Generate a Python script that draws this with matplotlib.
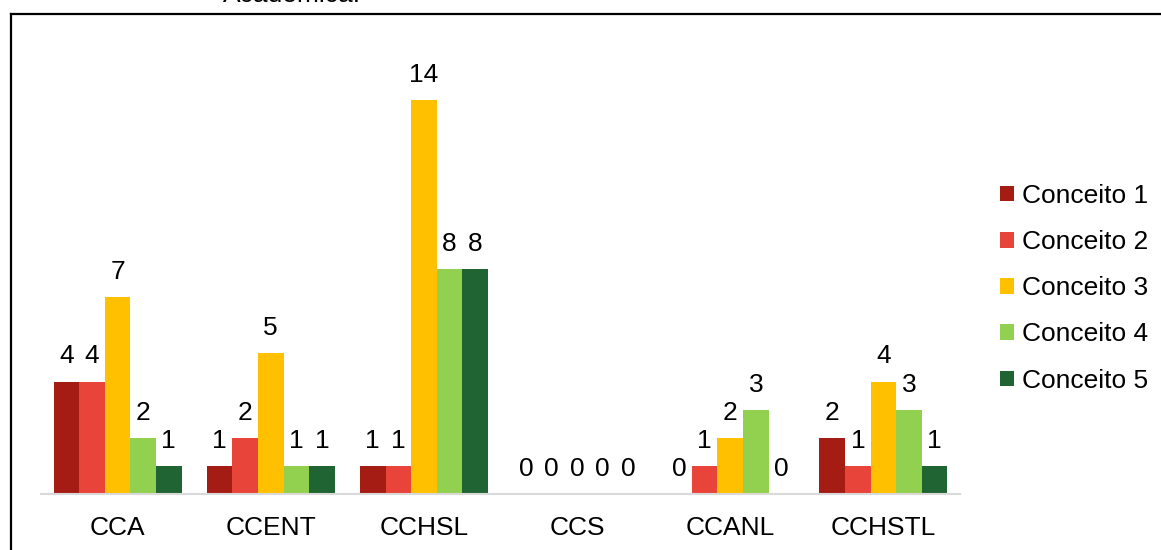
import numpy as np
import matplotlib.pyplot as plt
from matplotlib.lines import Line2D

plt.rcParams['font.family'] = ['Liberation Sans', 'DejaVu Sans']

# datos
cursos = ['CCA', 'CCENT', 'CCHSL', 'CCS', 'CCANL', 'CCHSTL']
conceito_1 = [4, 1, 1, 0, 0, 2]
conceito_2 = [4, 2, 1, 0, 1, 1]
conceito_3 = [7, 5, 14, 0, 2, 4]
conceito_4 = [2, 1, 8, 0, 3, 3]
conceito_5 = [1, 1, 8, 0, 0, 1]
series = [conceito_1, conceito_2, conceito_3, conceito_4, conceito_5]
nombres = ['Conceito 1', 'Conceito 2', 'Conceito 3', 'Conceito 4', 'Conceito 5']
colores = ['#a41c14', '#e9443a', '#ffc000', '#92d050', '#1f6432']

fig = plt.figure(figsize=(11.61, 5.5), dpi=100)
ax = fig.add_axes([41/1161, 56/550, 919/1161, 450/550])

x = np.arange(len(cursos))
w = 0.167
for i, (vals, nom, col) in enumerate(zip(series, nombres, colores)):
    pos = x + (i - 2) * w
    ax.bar(pos, vals, width=w, color=col, label=nom)
    for px, v in zip(pos, vals):
        ax.annotate(str(v), (px, v), xytext=(0, 13), textcoords='offset points',
                    ha='center', va='baseline', fontsize=19)

ax.set_xlim(-0.5, 5.5)
ax.set_ylim(0, 16)
ax.set_xticks(x)
ax.set_xticklabels(cursos, fontsize=19)
ax.tick_params(axis='x', length=0, pad=16)
ax.set_yticks([])
for s in ['top', 'right', 'left']:
    ax.spines[s].set_visible(False)
ax.spines['bottom'].set_color('#d9d9d9')
ax.spines['bottom'].set_linewidth(1.5)

ax.legend(loc='upper left', bbox_to_anchor=(1000/1161, 1 - 184/550), bbox_transform=fig.transFigure,
          frameon=False, fontsize=19, handlelength=0.52, handleheight=0.52,
          handletextpad=0.3, labelspacing=0.84, borderaxespad=0, borderpad=0)

# marco del documento
fig.add_artist(Line2D([11/1161, 11/1161], [-0.01, 1 - 14/550], color='black', lw=1.6,
                      transform=fig.transFigure))
fig.add_artist(Line2D([11/1161, 1.01], [1 - 14/550, 1 - 14/550], color='black', lw=1.6,
                      transform=fig.transFigure))
fig.text(223/1161, 1 - 1.5/550, 'Acadêmica.', fontsize=19, ha='left', va='baseline')

fig.savefig('out.png', dpi=100)
